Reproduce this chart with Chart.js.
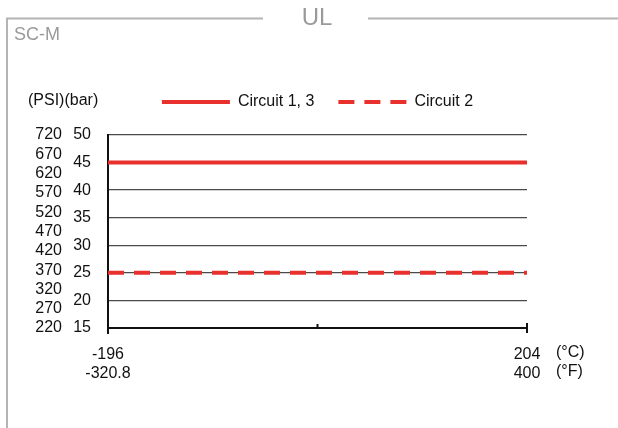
<!DOCTYPE html>
<html>
<head>
<meta charset="utf-8">
<style>
  html, body { margin: 0; padding: 0; background: #fff; }
  #wrap { width: 618px; height: 428px; position: relative; }
</style>
<script src="https://cdn.jsdelivr.net/npm/chart.js@4.4.1/dist/chart.umd.min.js"></script>
</head>
<body>
<div id="wrap"><canvas id="chart"></canvas></div>
<script>
/* ---- data ---- */
const TEMP_C = [-196, 204];          // x range, °C
const TEMP_F = [-320.8, 400];        // same points, °F
const CIRCUIT_13 = [45, 45];         // bar
const CIRCUIT_2 = [25, 25];          // bar
const BAR_TICKS = [15, 20, 25, 30, 35, 40, 45, 50];
const PSI_TICKS = [220, 270, 320, 370, 420, 470, 520, 570, 620, 670, 720];

const RED = "#e8302c";
const GREY = "#9a9a9a";
const FONT = '"Liberation Sans", Arial, sans-serif';

Chart.defaults.font.family = FONT;
Chart.defaults.font.size = 16;
Chart.defaults.color = "#111";

const toPoints = (ys) => TEMP_C.map((x, i) => ({ x, y: ys[i] }));

/* frame, titles and the odd tick marks the axes don't draw */
const decor = {
  id: "decor",
  beforeDraw(chart) {
    const { ctx } = chart;
    ctx.save();
    ctx.strokeStyle = "#b4b4b4";
    ctx.lineWidth = 2;
    ctx.beginPath();
    ctx.moveTo(7, 428); ctx.lineTo(7, 18.5); ctx.lineTo(263, 18.5);
    ctx.moveTo(368, 18.5); ctx.lineTo(618, 18.5);
    ctx.stroke();

    ctx.fillStyle = GREY;
    ctx.textBaseline = "middle";
    ctx.textAlign = "center";
    ctx.font = `24px ${FONT}`;
    ctx.fillText("UL", 317, 18);
    ctx.textAlign = "left";
    ctx.font = `18px ${FONT}`;
    ctx.fillText("SC-M", 14, 35);

    ctx.fillStyle = "#111";
    ctx.font = `16px ${FONT}`;
    ctx.fillText("(PSI)(bar)", 28, 101);
    ctx.restore();
  },
  afterDraw(chart) {
    const { ctx, scales } = chart;
    const x = scales.x, y = scales.bar;
    const y0 = y.getPixelForValue(BAR_TICKS[0]);
    ctx.save();
    ctx.strokeStyle = "#111";
    ctx.lineWidth = 2;
    ctx.beginPath();
    // left end: axis runs a little below
    const xl = x.getPixelForValue(TEMP_C[0]);
    ctx.moveTo(xl, y0); ctx.lineTo(xl, y0 + 6);
    // middle: small inward tick
    const xm = x.getPixelForValue((TEMP_C[0] + TEMP_C[1]) / 2);
    ctx.moveTo(xm, y0); ctx.lineTo(xm, y0 - 4);
    // right end: cross tick
    const xr = x.getPixelForValue(TEMP_C[1]);
    ctx.moveTo(xr, y0 - 5); ctx.lineTo(xr, y0 + 5);
    ctx.stroke();

    ctx.fillStyle = "#111";
    ctx.font = `16px ${FONT}`;
    ctx.textAlign = "left";
    ctx.textBaseline = "middle";
    ctx.fillText("(°C)", xr + 29, 353);
    ctx.fillText("(°F)", xr + 29, 372);
    ctx.restore();
  },
};

new Chart(document.getElementById("chart"), {
  type: "line",
  data: {
    datasets: [
      {
        label: "Circuit 1, 3",
        data: toPoints(CIRCUIT_13),
        borderColor: RED,
        backgroundColor: RED,
        borderWidth: 4,
        pointRadius: 0,
        yAxisID: "bar",
      },
      {
        label: "Circuit 2",
        data: toPoints(CIRCUIT_2),
        borderColor: RED,
        backgroundColor: RED,
        borderWidth: 4,
        borderDash: [16, 10],
        pointRadius: 0,
        yAxisID: "bar",
      },
    ],
  },
  options: {
    responsive: true,
    maintainAspectRatio: false,
    animation: false,
    layout: { padding: { top: 70, right: 91, bottom: 40, left: 0 } },
    plugins: {
      tooltip: { enabled: false },
      legend: {
        position: "top",
        fullSize: false,
        labels: {
          usePointStyle: true,
          pointStyle: "line",
          pointStyleWidth: 68,
          padding: 24,
          color: "#111",
          font: { size: 16 },
          // with usePointStyle the default items lose the dataset's dash
          generateLabels(chart) {
            const items = Chart.defaults.plugins.legend.labels.generateLabels(chart);
            items.forEach((it) => {
              const ds = chart.data.datasets[it.datasetIndex];
              it.lineDash = ds.borderDash || [];
              it.lineWidth = ds.borderWidth;
              it.strokeStyle = ds.borderColor;
            });
            return items;
          },
        },
      },
      // empty spacer between legend and plot
      subtitle: {
        display: true,
        text: "",
        weight: 500,
        padding: 0,
        font: { size: 15, lineHeight: 1 },
      },
    },
    scales: {
      x: {
        type: "linear",
        min: TEMP_C[0],
        max: TEMP_C[1],
        afterBuildTicks(scale) {
          scale.ticks = TEMP_C.map((v) => ({ value: v }));
        },
        afterFit(scale) { scale.height = 60; },
        ticks: {
          padding: 9,
          maxRotation: 0,
          color: "#111",
          callback(v) {
            const i = TEMP_C.indexOf(v);
            return i < 0 ? "" : [String(TEMP_C[i]), String(TEMP_F[i])];
          },
        },
        grid: { display: false },
        border: { display: true, color: "#111", width: 2 },
      },
      bar: {
        type: "linear",
        position: "left",
        weight: 0,
        min: BAR_TICKS[0],
        max: BAR_TICKS[BAR_TICKS.length - 1],
        afterBuildTicks(scale) {
          scale.ticks = BAR_TICKS.map((v) => ({ value: v }));
        },
        afterFit(scale) { scale.width = 40; },
        ticks: { padding: 17, color: "#111", autoSkip: false },
        grid: { color: "#4a4a4a", lineWidth: 1.3, drawTicks: false },
        border: { display: true, color: "#111", width: 2 },
      },
      psi: {
        type: "linear",
        position: "left",
        weight: 1,
        min: PSI_TICKS[0],
        max: PSI_TICKS[PSI_TICKS.length - 1],
        afterBuildTicks(scale) {
          scale.ticks = PSI_TICKS.map((v) => ({ value: v }));
        },
        afterFit(scale) { scale.width = 68; },
        ticks: { padding: 6, color: "#111", autoSkip: false },
        grid: { display: false, drawTicks: false },
        border: { display: false },
      },
    },
  },
  plugins: [decor],
});
</script>
</body>
</html>
